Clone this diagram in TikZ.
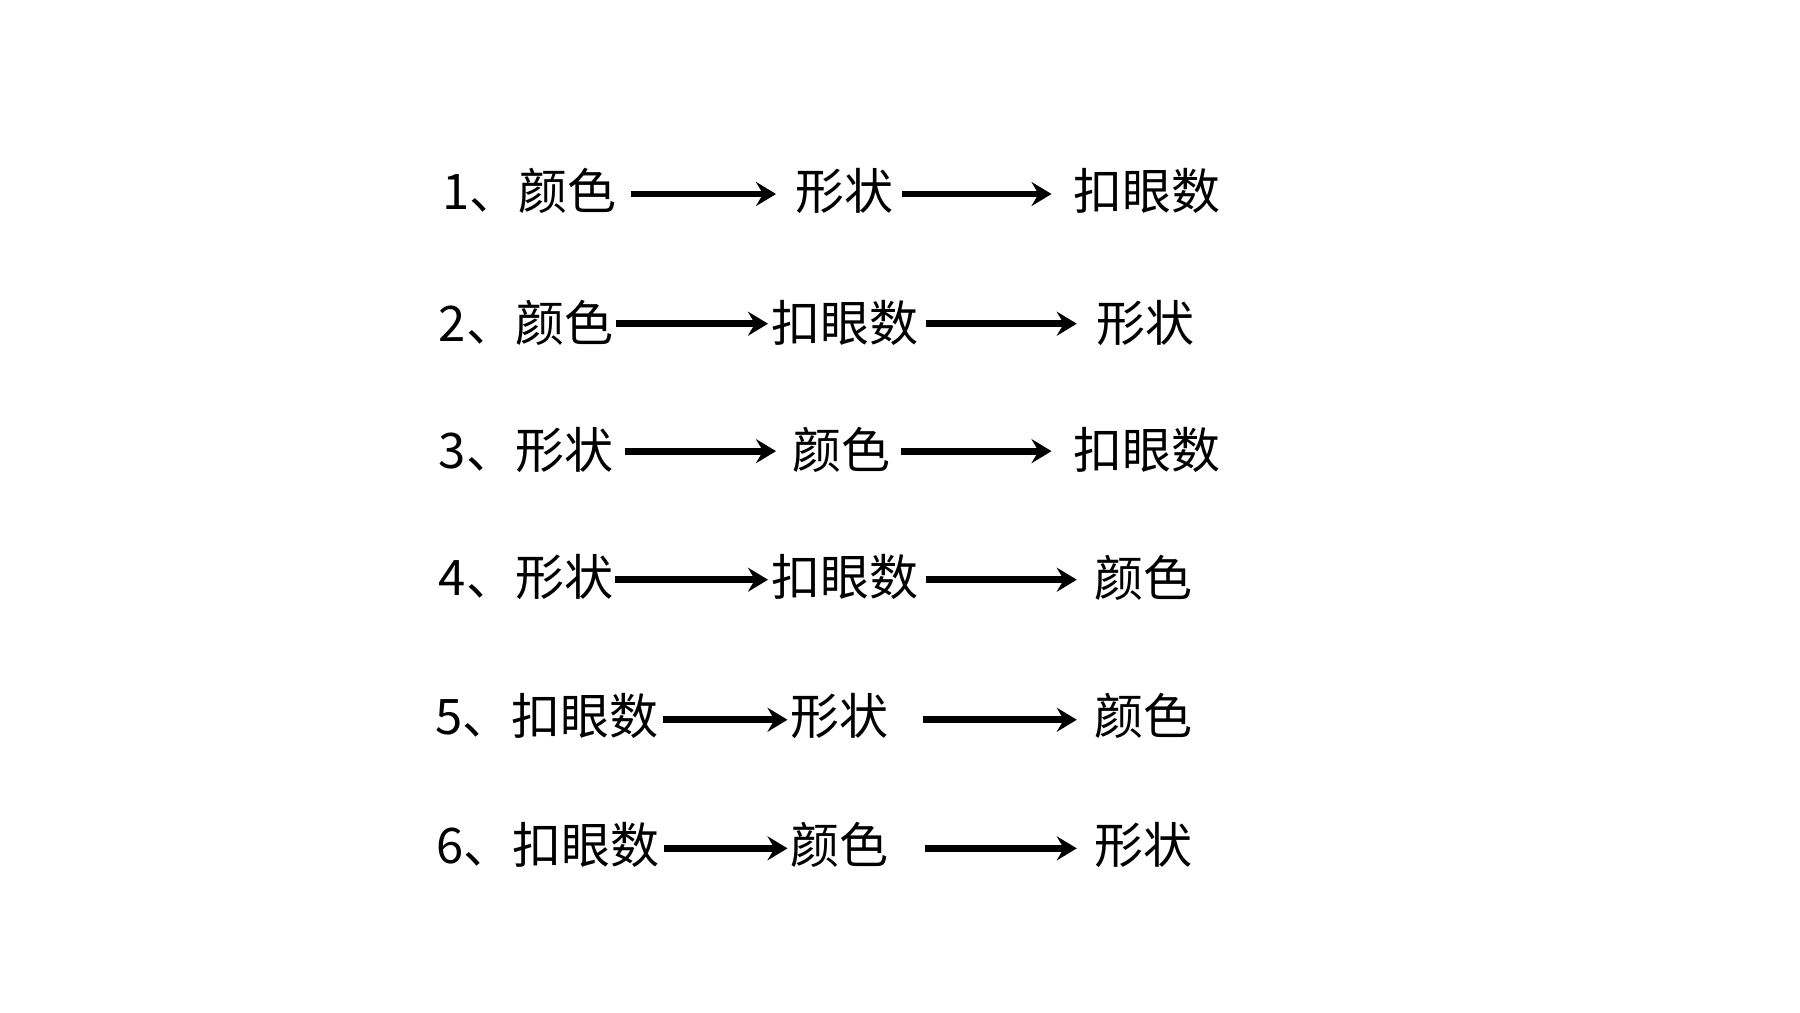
\documentclass[tikz,border=0pt]{standalone}
\usepackage{fontspec}
\setmainfont{Noto Sans CJK SC}
\usetikzlibrary{arrows.meta}
\newlength\myu
\setlength\myu{0.574pt}
\tikzset{
  lbl/.style={anchor=west,inner sep=0pt,font=\fontsize{24.5}{25}\selectfont},
  arr/.style={line width=3.4pt,-{Stealth[length=10pt,width=12pt,inset=3.5pt]}},
}
\begin{document}
\begin{tikzpicture}[x=\myu,y=-\myu]
\fill[white] (0,0) rectangle (1568,881.6);
\useasboundingbox (0,0) rectangle (1568,881.6);
% row 1
\node[lbl] (r1a) at (385,166) {1、颜色};
\node[lbl] (r1b) at (693,166) {形状};
\node[lbl] (r1c) at (935,166) {扣眼数};
% row 2
\node[lbl] (r2a) at (382,281) {2、颜色};
\node[lbl] (r2b) at (672,281) {扣眼数};
\node[lbl] (r2c) at (955,281) {形状};
% row 3
\node[lbl] (r3a) at (382,392) {3、形状};
\node[lbl] (r3b) at (690,392) {颜色};
\node[lbl] (r3c) at (935,392) {扣眼数};
% row 4
\node[lbl] (r4a) at (382,503) {4、形状};
\node[lbl] (r4b) at (672,503) {扣眼数};
\node[lbl] (r4c) at (953,503) {颜色};
% row 5
\node[lbl] (r5a) at (379,624) {5、扣眼数};
\node[lbl] (r5b) at (688,624) {形状};
\node[lbl] (r5c) at (953,624) {颜色};
% row 6
\node[lbl] (r6a) at (380,736) {6、扣眼数};
\node[lbl] (r6b) at (688,736) {颜色};
\node[lbl] (r6c) at (953,736) {形状};
% arrows
\draw[arr] ([xshift=12\myu,yshift=-3\myu]r1a.east) -- ([xshift=-17\myu,yshift=-3\myu]r1b.west);
\draw[arr] ([xshift=7\myu,yshift=-3\myu]r1b.east) -- ([xshift=-19\myu,yshift=-3\myu]r1c.west);
\draw[arr] ([xshift=2\myu,yshift=-1\myu]r2a.east) -- ([xshift=-3\myu,yshift=-1\myu]r2b.west);
\draw[arr] ([xshift=6\myu,yshift=-1\myu]r2b.east) -- ([xshift=-17\myu,yshift=-1\myu]r2c.west);
\draw[arr] ([xshift=10\myu,yshift=-1\myu]r3a.east) -- ([xshift=-14\myu,yshift=-1\myu]r3b.west);
\draw[arr] ([xshift=9\myu,yshift=-1\myu]r3b.east) -- ([xshift=-19\myu,yshift=-1\myu]r3c.west);
\draw[arr] ([xshift=1\myu,yshift=-2\myu]r4a.east) -- ([xshift=-3\myu,yshift=-2\myu]r4b.west);
\draw[arr] ([xshift=6\myu,yshift=-2\myu]r4b.east) -- ([xshift=-15\myu,yshift=-2\myu]r4c.west);
\draw[arr] ([xshift=3\myu,yshift=-3\myu]r5a.east) -- ([xshift=-2\myu,yshift=-3\myu]r5b.west);
\draw[arr] ([xshift=30\myu,yshift=-3\myu]r5b.east) -- ([xshift=-15\myu,yshift=-3\myu]r5c.west);
\draw[arr] ([xshift=3\myu,yshift=-3\myu]r6a.east) -- ([xshift=-2\myu,yshift=-3\myu]r6b.west);
\draw[arr] ([xshift=32\myu,yshift=-3\myu]r6b.east) -- ([xshift=-15\myu,yshift=-3\myu]r6c.west);
\end{tikzpicture}
\end{document}
